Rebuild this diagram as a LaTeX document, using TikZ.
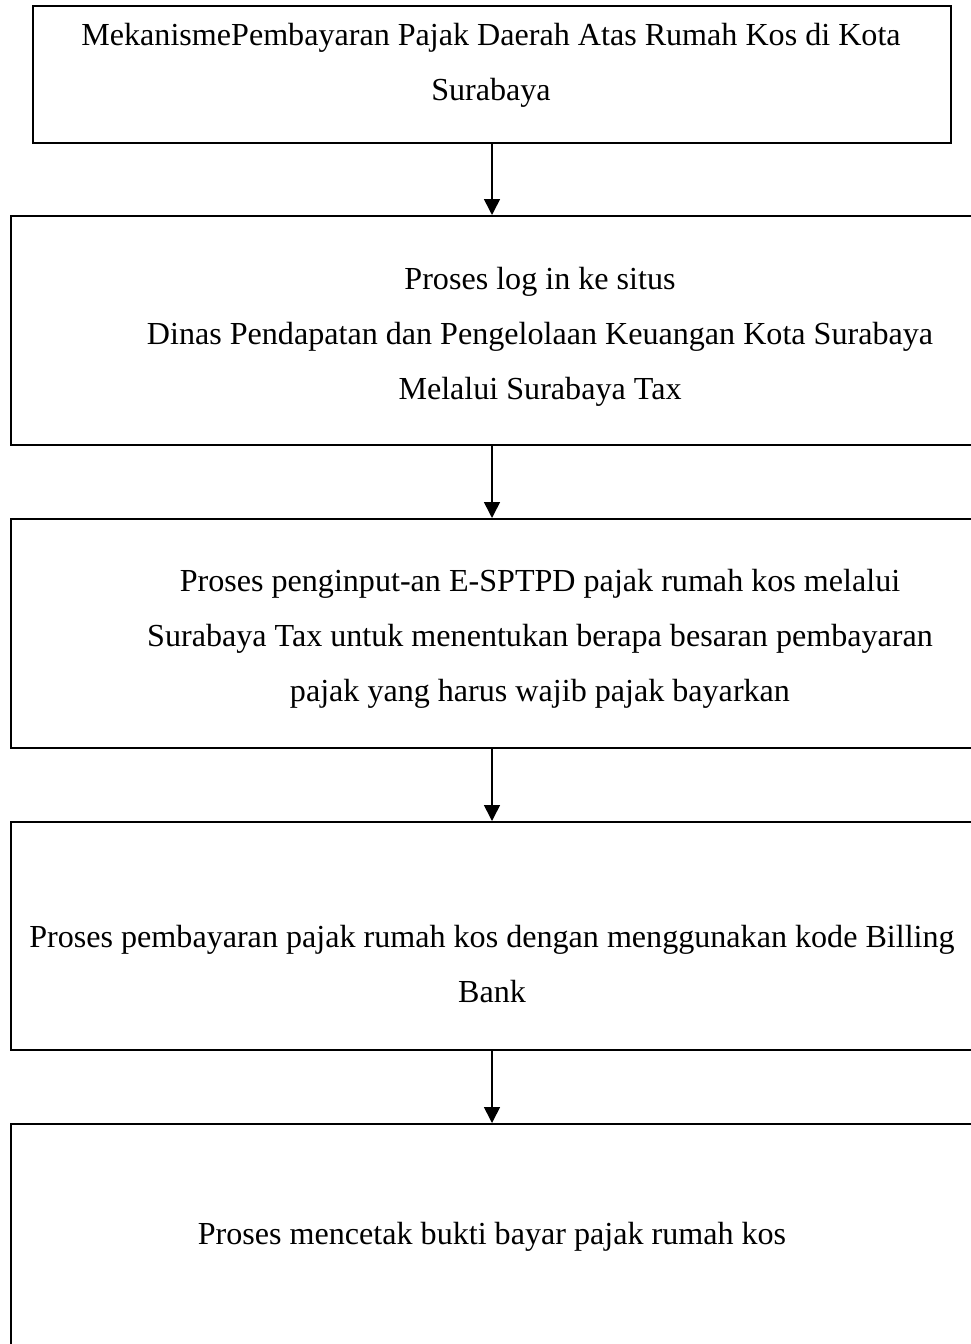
\documentclass[tikz,border=0pt]{standalone}
\usepackage{fontspec}
\setmainfont{Liberation Serif}
\usetikzlibrary{arrows.meta}
\begin{document}
\begin{tikzpicture}[x=1pt,y=-1pt,
  box/.style={draw=black,line width=1.6pt,rectangle,inner sep=0pt,anchor=north west},
  txt/.style={align=center,inner sep=0pt,anchor=base,font=\fontsize{32.1}{55}\selectfont},
  flow/.style={line width=1.6pt,-{Triangle[width=16pt,length=16pt]}}]
\useasboundingbox (0,0) rectangle (971,1344);
\node[box,minimum width=918pt,minimum height=137pt] (b1) at (32,5) {};
\node[box,minimum width=970pt,minimum height=229pt] (b2) at (10,215) {};
\node[box,minimum width=970pt,minimum height=229pt] (b3) at (10,518) {};
\node[box,minimum width=970pt,minimum height=228pt] (b4) at (10,821) {};
\node[box,minimum width=970pt,minimum height=240pt] (b5) at (10,1123) {};
\node[txt] (t1) at (491,100) {MekanismePembayaran Pajak Daerah Atas Rumah Kos di Kota\\Surabaya};
\node[txt] (t2) at (540,399) {Proses log in ke situs\\Dinas Pendapatan dan Pengelolaan Keuangan Kota Surabaya\\Melalui Surabaya Tax};
\node[txt] (t3) at (540,701) {Proses penginput-an E-SPTPD pajak rumah kos melalui\\Surabaya Tax untuk menentukan berapa besaran pembayaran\\pajak yang harus wajib pajak bayarkan};
\node[txt] (t4) at (492,1002) {Proses pembayaran pajak rumah kos dengan menggunakan kode Billing\\Bank};
\node[txt] (t5) at (492,1244) {Proses mencetak bukti bayar pajak rumah kos};
\coordinate (a) at (492,0);
\draw[flow] (a |- b1.south) -- (a |- b2.north);
\draw[flow] (a |- b2.south) -- (a |- b3.north);
\draw[flow] (a |- b3.south) -- (a |- b4.north);
\draw[flow] (a |- b4.south) -- (a |- b5.north);
\end{tikzpicture}
\end{document}
